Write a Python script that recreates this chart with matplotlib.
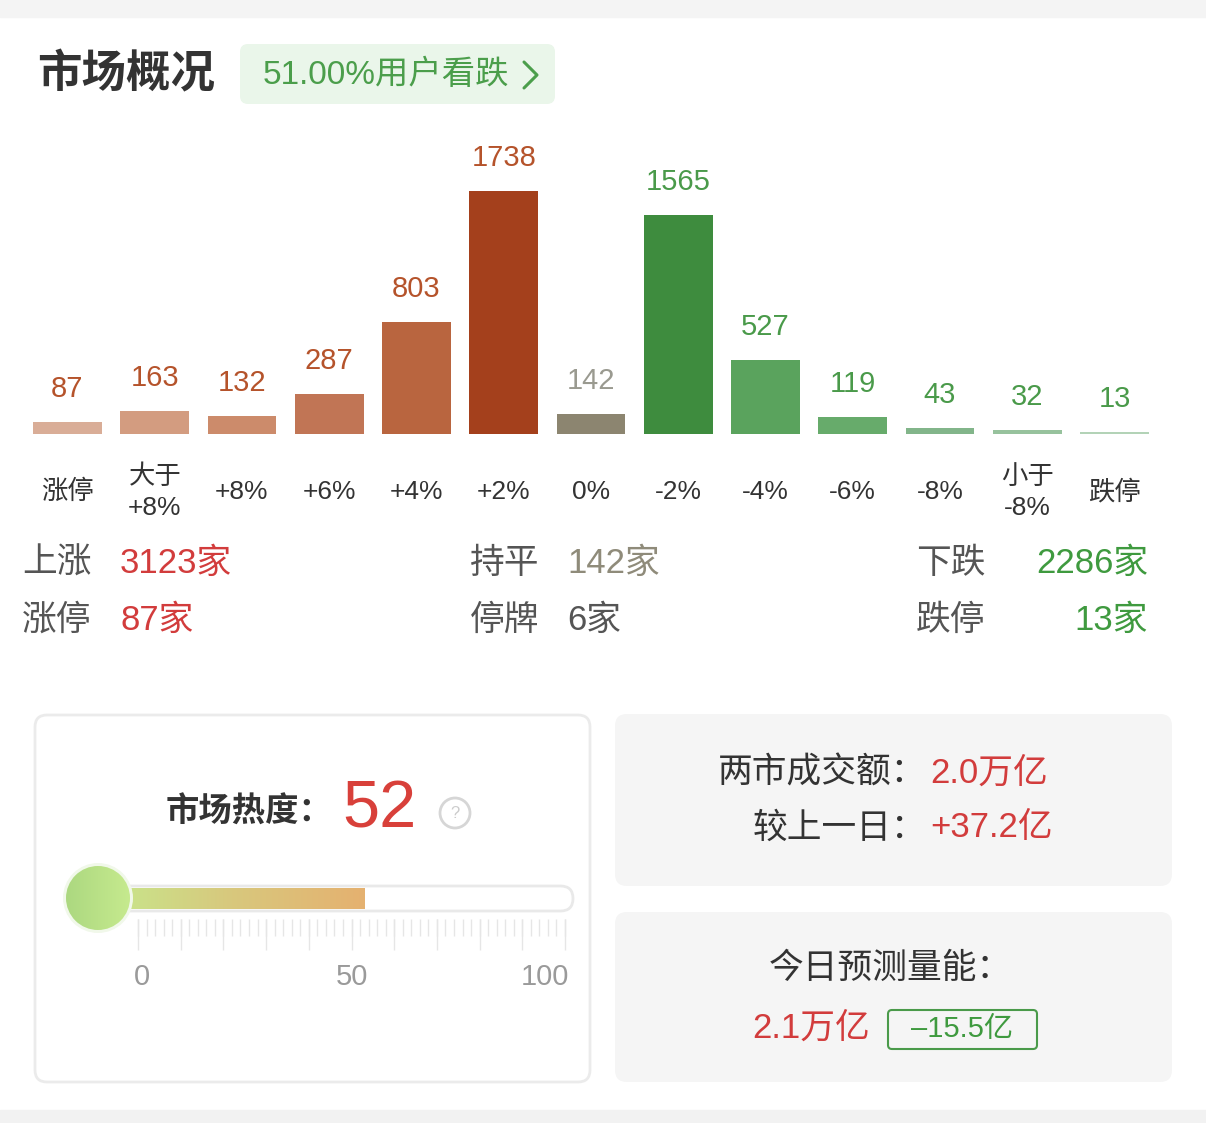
import numpy as np
import matplotlib
matplotlib.use("Agg")
import matplotlib.pyplot as plt
from matplotlib.patches import FancyBboxPatch, Circle, Ellipse
from matplotlib.colors import LinearSegmentedColormap

# Latin glyphs from Liberation Sans, Chinese from Noto Sans CJK
plt.rcParams['font.family'] = ['Liberation Sans', 'Noto Sans CJK SC', 'DejaVu Sans']

# ---- data ----
categories = ['涨停', '大于\n+8%', '+8%', '+6%', '+4%', '+2%', '0%',
              '-2%', '-4%', '-6%', '-8%', '小于\n-8%', '跌停']
counts = [87, 163, 132, 287, 803, 1738, 142, 1565, 527, 119, 43, 32, 13]
bar_colors = ['#d9ad97', '#d39c80', '#cc8b6b', '#c17555', '#b9653f', '#a4401c',
              '#8c8570', '#3e8c3e', '#5aa35d', '#67ab6b', '#82b58a', '#97c29d', '#b3d3b7']
label_colors = ['#b5532b'] * 6 + ['#9a9a90'] + ['#4a9a4a'] * 6

title = '市场概况'
badge_text = '51.00%用户看跌'

up_count, flat_count, down_count = 3123, 142, 2286
limit_up, suspended, limit_down = 87, 6, 13

heat = 52
heat_ticks = [0, 50, 100]

turnover = '2.0万亿'
turnover_change = '+37.2亿'
forecast = '2.1万亿'
forecast_change = '–15.5亿'

W, H = 1206, 1123
fig = plt.figure(figsize=(W / 100, H / 100), dpi=100)
fig.patch.set_facecolor('white')

# background layer in pixel coordinates
bg = fig.add_axes([0, 0, 1, 1])
bg.set_xlim(0, W)
bg.set_ylim(H, 0)
bg.axis('off')


def rbox(x0, y0, x1, y1, r, fc, ec='none', lw=0, ax=bg, z=1):
    p = FancyBboxPatch((x0, y0), x1 - x0, y1 - y0,
                       boxstyle=f"round,pad=0,rounding_size={r}",
                       fc=fc, ec=ec, lw=lw, zorder=z)
    ax.add_patch(p)
    return p


# top / bottom gray bands
bg.axhspan(0, 17, color='#f4f4f4', zorder=0)
bg.axhspan(1110, H, color='#f2f2f2', zorder=0)

# header
bg.text(37, 75, title, fontsize=32, fontweight='bold', color='#333333',
        ha='left', va='center')
rbox(240, 44, 555, 104, 8, '#eaf6ea')
bg.text(263, 75, badge_text, fontsize=24, color='#4b9e4b', ha='left', va='center')
bg.plot([524, 537, 524], [62, 75, 88], color='#4b9e4b', lw=2.2,
        solid_capstyle='round', solid_joinstyle='round')

# ---- bar chart ----
step = 87.25
left_px = 67.5 - step / 2
ymax = 2000
px_per_unit = 243 / 1738
ax = fig.add_axes([left_px / W, (H - 434) / H, 13 * step / W, ymax * px_per_unit / H])
ax.set_xlim(-0.5, 12.5)
ax.set_ylim(0, ymax)
ax.axis('off')
ax.patch.set_alpha(0)
x = np.arange(len(counts))
ax.bar(x, counts, width=0.79, color=bar_colors, zorder=2)
for i, (v, c) in enumerate(zip(counts, label_colors)):
    ax.annotate(str(v), xy=(i, v), xytext=(0, 33), textcoords='offset pixels',
                ha='center', va='center', fontsize=21, color=c, annotation_clip=False)
    lbl = categories[i]
    if '\n' in lbl:
        top, bot = lbl.split('\n')
        ax.annotate(top, xy=(i, 0), xytext=(0, -43), textcoords='offset pixels',
                    ha='center', va='center', fontsize=19, color='#333333',
                    annotation_clip=False)
        ax.annotate(bot, xy=(i, 0), xytext=(0, -74), textcoords='offset pixels',
                    ha='center', va='center', fontsize=19, color='#333333',
                    annotation_clip=False)
    else:
        ax.annotate(lbl, xy=(i, 0), xytext=(0, -58), textcoords='offset pixels',
                    ha='center', va='center', fontsize=19, color='#333333',
                    annotation_clip=False)

# ---- summary rows ----
red, green, gray_val, lab = '#d23c3c', '#3f9a3f', '#8f8b7a', '#555555'
fs = 25
bg.text(22, 563, '上涨', fontsize=fs, color=lab, ha='left', va='center')
bg.text(120, 563, f'{up_count}家', fontsize=fs, color=red, ha='left', va='center')
bg.text(22, 620, '涨停', fontsize=fs, color=lab, ha='left', va='center')
bg.text(120, 620, f'{limit_up}家', fontsize=fs, color=red, ha='left', va='center')
bg.text(470, 563, '持平', fontsize=fs, color=lab, ha='left', va='center')
bg.text(567, 563, f'{flat_count}家', fontsize=fs, color=gray_val, ha='left', va='center')
bg.text(470, 620, '停牌', fontsize=fs, color=lab, ha='left', va='center')
bg.text(567, 620, f'{suspended}家', fontsize=fs, color=lab, ha='left', va='center')
bg.text(916, 563, '下跌', fontsize=fs, color=lab, ha='left', va='center')
bg.text(1148, 563, f'{down_count}家', fontsize=fs, color=green, ha='right', va='center')
bg.text(916, 620, '跌停', fontsize=fs, color=lab, ha='left', va='center')
bg.text(1148, 620, f'{limit_down}家', fontsize=fs, color=green, ha='right', va='center')

# ---- heat card ----
rbox(35, 715, 590, 1082, 12, 'white', ec='#ebebeb', lw=2)
bg.text(332, 813, '市场热度：', fontsize=24, fontweight='bold', color='#333333',
        ha='right', va='center')
bg.text(342, 810, str(heat), fontsize=48, color='#d8403a', ha='left', va='center')
bg.add_patch(Circle((455, 813), 15, fc='none', ec='#d6d6d6', lw=2, zorder=3))
bg.text(455, 813, '?', fontsize=12, color='#cccccc', ha='center', va='center')

# tube outline
rbox(100, 886, 573, 911, 12.5, 'white', ec='#e9e9e9', lw=2, z=2)

# thermometer axes: x in heat units, y in pixels
t_left, t_right = 60, 580
scale = (565 - 138) / 100
axt = fig.add_axes([t_left / W, (H - 990) / H, (t_right - t_left) / W, 130 / H])
axt.patch.set_alpha(0)
axt.axis('off')
xl0 = (t_left - 138) / scale
xl1 = (t_right - 138) / scale
grad = LinearSegmentedColormap.from_list('heat', ['#c6e98d', '#d8c87d', '#e5b170'])
bulb_x = (98 - 138) / scale
axt.imshow(np.linspace(0, 1, 256).reshape(1, -1), cmap=grad, aspect='auto',
           extent=(bulb_x, heat + 1, 909, 888), zorder=3, interpolation='bilinear')
minor = np.arange(0, 101, 2)
major = np.arange(0, 101, 10)
axt.vlines(minor, 919, 936, color='#e6e6e6', lw=1, zorder=2)
axt.vlines(major, 919, 950, color='#e6e6e6', lw=1, zorder=2)
for t, ha, dx in zip(heat_ticks, ['center', 'center', 'right'], [1, 0, 1.0]):
    axt.text(t + dx, 977, str(t), fontsize=21, color='#9a9a9a', ha=ha, va='center')

# bulb with gradient (ellipse in data units = circle on screen)
axt.add_patch(Ellipse((bulb_x, 898), 70 / scale, 70, fc='#f1f8ea', ec='none', zorder=4))
bulb = Ellipse((bulb_x, 898), 64 / scale, 64, transform=axt.transData)
bulb_cmap = LinearSegmentedColormap.from_list('bulb', ['#acd880', '#c6ea8e'])
im = axt.imshow(np.linspace(0, 1, 128).reshape(1, -1), cmap=bulb_cmap, aspect='auto',
                extent=(bulb_x - 32 / scale, bulb_x + 32 / scale, 930, 866),
                zorder=5, interpolation='bilinear')
im.set_clip_path(bulb)
axt.set_xlim(xl0, xl1)
axt.set_ylim(990, 860)

# ---- turnover cards ----
rbox(615, 714, 1172, 886, 12, '#f5f5f5')
bg.text(926, 773, '两市成交额：', fontsize=25, color='#333333', ha='right', va='center')
bg.text(930, 773, turnover, fontsize=25, color=red, ha='left', va='center')
bg.text(926, 828, '较上一日：', fontsize=25, color='#333333', ha='right', va='center')
bg.text(930, 828, turnover_change, fontsize=25, color=red, ha='left', va='center')

rbox(615, 912, 1172, 1082, 12, '#f5f5f5')
bg.text(890, 968, '今日预测量能：', fontsize=25, color='#333333', ha='center', va='center')
bg.text(752, 1028, forecast, fontsize=25, color=red, ha='left', va='center')
rbox(888, 1010, 1037, 1049, 4, 'none', ec='#4a9a4a', lw=1.5, z=3)
bg.text(962, 1029, forecast_change, fontsize=21, color='#3f9a3f', ha='center', va='center')

fig.savefig('out.png', dpi=100, facecolor='white')
